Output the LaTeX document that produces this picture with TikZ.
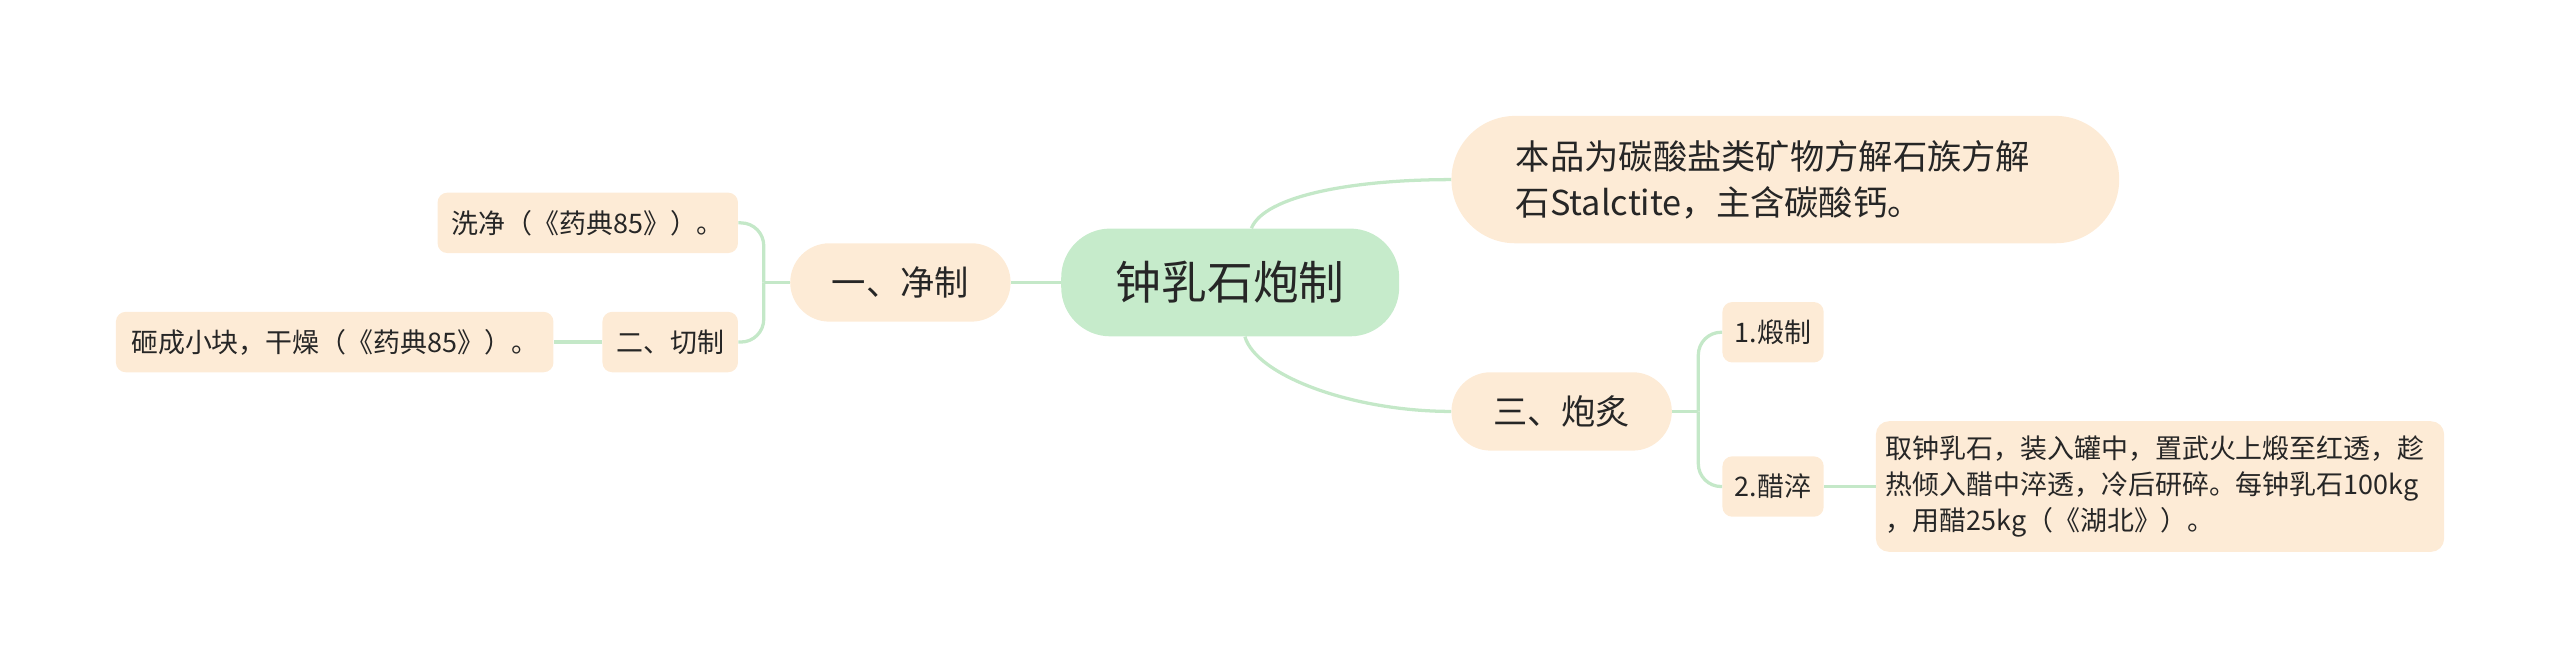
\documentclass[tikz,border=0pt]{standalone}
\usepackage{fontspec}
\setmainfont{Noto Sans CJK SC}
\usetikzlibrary{calc}
\definecolor{peach}{HTML}{FDEBD6}
\definecolor{rootg}{HTML}{C6EBCB}
\definecolor{linkg}{HTML}{C4E8C8}
\definecolor{txt}{HTML}{262626}
\begin{document}
\begin{tikzpicture}[x=1pt,y=-1pt,
  box/.style={fill=peach, text=txt, inner sep=0pt, align=center},
  smallbox/.style={box, minimum height=37, rounded corners=6, font=\fontsize{16.5}{22}\selectfont},
  midbox/.style={box, minimum width=135, minimum height=48, rounded corners=24, font=\fontsize{21}{28}\selectfont},
  conn/.style={draw=linkg, line width=2pt},
]
\useasboundingbox (0,0) rectangle (1568,410);
\node[box, fill=rootg, minimum width=207, minimum height=66, rounded corners=30, font=\fontsize{28}{34}\selectfont] (root) at (753.5,173) {钟乳石炮制};
\node[box, minimum width=409, minimum height=78, rounded corners=39, text width=330, align=left, font=\fontsize{21}{28}\selectfont] (info) at (1093.5,110) {本品为碳酸盐类矿物方解石族方解\\石Stalctite，主含碳酸钙。};
\node[midbox] (jingzhi) at (551.5,173) {一、净制};
\node[midbox] (paozhi) at (956.5,252) {三、炮炙};
\node[smallbox, minimum width=184] (xijing) at (360,136.5) {洗净（《药典85》）。};
\node[smallbox, minimum width=83] (qiezhi) at (410.5,209.5) {二、切制};
\node[smallbox, minimum width=268] (zacheng) at (205,209.5) {砸成小块，干燥（《药典85》）。};
\node[smallbox, minimum width=62] (duanzhi) at (1086,203.5) {1.煅制};
\node[smallbox, minimum width=62] (cuicui) at (1086,298) {2.醋淬};
\node[smallbox, minimum width=348, minimum height=80, rounded corners=8, text width=336, align=left] (long) at (1323,298) {取钟乳石，装入罐中，置武火上煅至红透，趁\\热倾入醋中淬透，冷后研碎。每钟乳石100kg\\，用醋25kg（《湖北》）。};

\draw[conn] (root.west) -- (jingzhi.east);
\draw[conn] ([xshift=13]root.north) .. controls +(8,-20) and +(-60,0) .. (info.west);
\draw[conn] ([xshift=9]root.south) .. controls +(7,24) and +(-60,0) .. (paozhi.west);

\coordinate (jl) at ($(jingzhi.west)+(-16,0)$);
\draw[conn] (jingzhi.west) -- (jl);
\draw[conn, rounded corners=14] (xijing.east) -| (jl);
\draw[conn, rounded corners=14] (qiezhi.east) -| (jl);
\draw[conn] (qiezhi.west) -- (zacheng.east);

\coordinate (pr) at ($(paozhi.east)+(16,0)$);
\draw[conn] (paozhi.east) -- (pr);
\draw[conn, rounded corners=14] (pr) |- (duanzhi.west);
\draw[conn, rounded corners=14] (pr) |- (cuicui.west);
\draw[conn] (cuicui.east) -- (long.west);
\end{tikzpicture}
\end{document}
